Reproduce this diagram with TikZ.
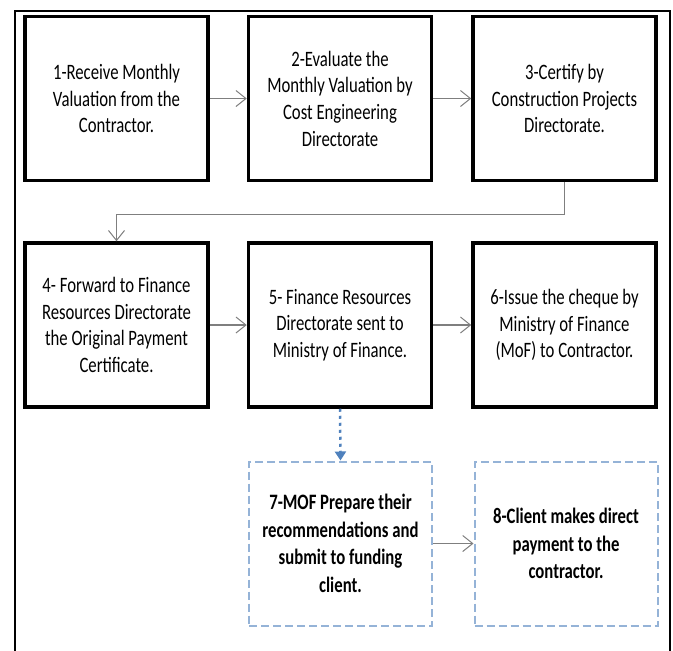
\documentclass[tikz,border=0pt]{standalone}
\usepackage{fontspec}
\setmainfont{Carlito}[FakeStretch=0.76]
\usetikzlibrary{arrows.meta}
\definecolor{linkgray}{HTML}{7F7F7F}
\definecolor{flowblue}{HTML}{4F81BD}
\definecolor{paleblue}{HTML}{95B3D7}
\begin{document}
\begin{tikzpicture}[x=1pt,y=-1pt,
  stepbox/.style={draw=black, line width=3.5pt, minimum width=183pt,
    minimum height=164pt, inner sep=0pt, align=center,
    font=\fontsize{22}{26.7}\selectfont},
  optbox/.style={draw=paleblue, line width=2pt, dash pattern=on 8pt off 4pt,
    minimum width=183pt, minimum height=164pt, inner sep=0pt, align=center,
    font=\fontsize{22}{27.5}\selectfont\bfseries},
  link/.style={draw=linkgray, line width=1.2pt,
    -{Straight Barb[length=10pt,width=16pt,line width=1pt]}},
  optlink/.style={draw=flowblue, line width=2.5pt, dash pattern=on 3pt off 4pt,
    -{Triangle[length=9pt,width=11pt]}},
  frameline/.style={draw=black, line width=2pt}
]
\useasboundingbox (0,0) rectangle (673,651);

% outer frame, open at the bottom
\draw[frameline] (15,655) -- (15,11) -- (670,11) -- (670,655);

% first row
\node[stepbox] (s1) at (116.5,98.5) {1-Receive Monthly\\Valuation from the\\Contractor.};
\node[stepbox] (s2) at (340,98.5) {2-Evaluate the\\Monthly Valuation by\\Cost Engineering\\Directorate};
\node[stepbox] (s3) at (564.5,98.5) {3-Certify by\\Construction Projects\\Directorate.};

% second row
\node[stepbox] (s4) at (116.5,325) {4- Forward to Finance\\Resources Directorate\\the Original Payment\\Certificate.};
\node[stepbox] (s5) at (340,325) {5- Finance Resources\\Directorate sent to\\Ministry of Finance.};
\node[stepbox] (s6) at (564.5,325) {6-Issue the cheque by\\Ministry of Finance\\(MoF) to Contractor.};

% optional route
\node[optbox] (s7) at (340.5,543.5) {7-MOF Prepare their\\recommendations and\\submit to funding\\client.};
\node[optbox] (s8) at (566,543.5) {8-Client makes direct\\payment to the\\contractor.};

% connectors
\draw[link] (s1) -- (s2);
\draw[link] (s2) -- (s3);
\draw[link] (s3.south) -- ++(0,32) -| (s4.north);
\draw[link] (s4) -- (s5);
\draw[link] (s5) -- (s6);
\draw[optlink] (s5.south) -- (s7.north);
\draw[link] (s7) -- (s8);
\end{tikzpicture}
\end{document}
